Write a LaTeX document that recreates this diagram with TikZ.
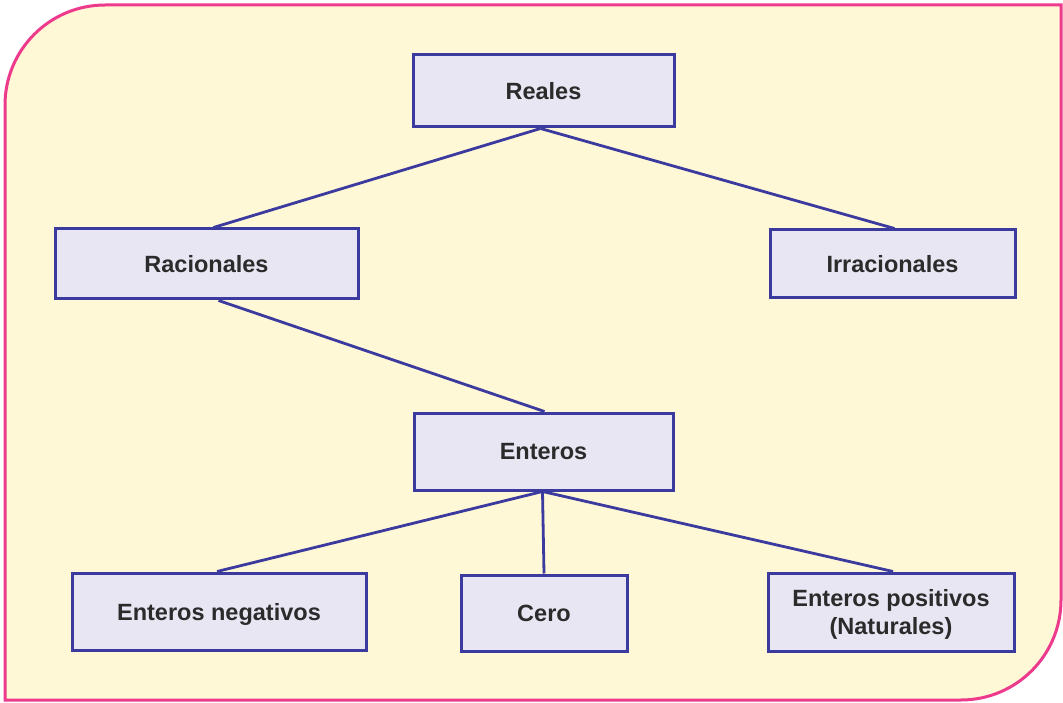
\documentclass[tikz,border=0pt]{standalone}
\usepackage{fontspec}
\setmainfont{Liberation Sans}
\definecolor{bgyellow}{HTML}{FFF8D6}
\definecolor{framepink}{HTML}{EE3A8C}
\definecolor{boxfill}{HTML}{E8E6F2}
\definecolor{boxline}{HTML}{3B3A9E}
\definecolor{txt}{HTML}{2B2B2B}
\begin{document}
\begin{tikzpicture}[x=1pt,y=-1pt,
  cbox/.style={draw=boxline,fill=boxfill,line width=3pt,inner sep=0pt,
    text=txt,font=\fontsize{23.5}{28}\selectfont\bfseries,align=center,
    text depth=0pt},
  conn/.style={draw=boxline,line width=2.8pt}]
\useasboundingbox (0,0) rectangle (1063,703);
\fill[white] (0,0) rectangle (1063,703);
\draw[framepink,fill=bgyellow,line width=3pt]
  (5,700) -- (5,105) arc[start angle=180,end angle=270,radius=100] -- (1061,5)
  -- (1061,600) arc[start angle=0,end angle=90,radius=100] -- cycle;
\node[cbox,minimum width=261pt,minimum height=72pt] (rea) at (543.5,91) {Reales};
\node[cbox,minimum width=303pt,minimum height=70pt] (rac) at (206.5,264) {Racionales};
\node[cbox,minimum width=245pt,minimum height=68pt] (irr) at (892.5,264) {Irracionales};
\node[cbox,minimum width=259pt,minimum height=77pt] (ent) at (543.5,451.5) {Enteros};
\node[cbox,minimum width=294pt,minimum height=77pt] (neg) at (219,611.5) {Enteros negativos};
\node[cbox,minimum width=166pt,minimum height=76pt] (cer) at (544,613) {Cero};
\node[cbox,minimum width=246pt,minimum height=78pt] (pos) at (891,612) {Enteros positivos\\(Naturales)};
\path[conn] ([xshift=-3pt]rea.south) -- ([xshift=7pt]rac.north);
\path[conn] ([xshift=-3pt]rea.south) -- ([xshift=2pt]irr.north);
\path[conn] ([xshift=12pt]rac.south) -- ([xshift=1pt]ent.north);
\path[conn] ([xshift=-1pt]ent.south) -- ([xshift=-2pt]neg.north);
\path[conn] ([xshift=-1pt]ent.south) -- (cer.north);
\path[conn] ([xshift=-1pt]ent.south) -- ([xshift=2pt]pos.north);
\end{tikzpicture}
\end{document}
